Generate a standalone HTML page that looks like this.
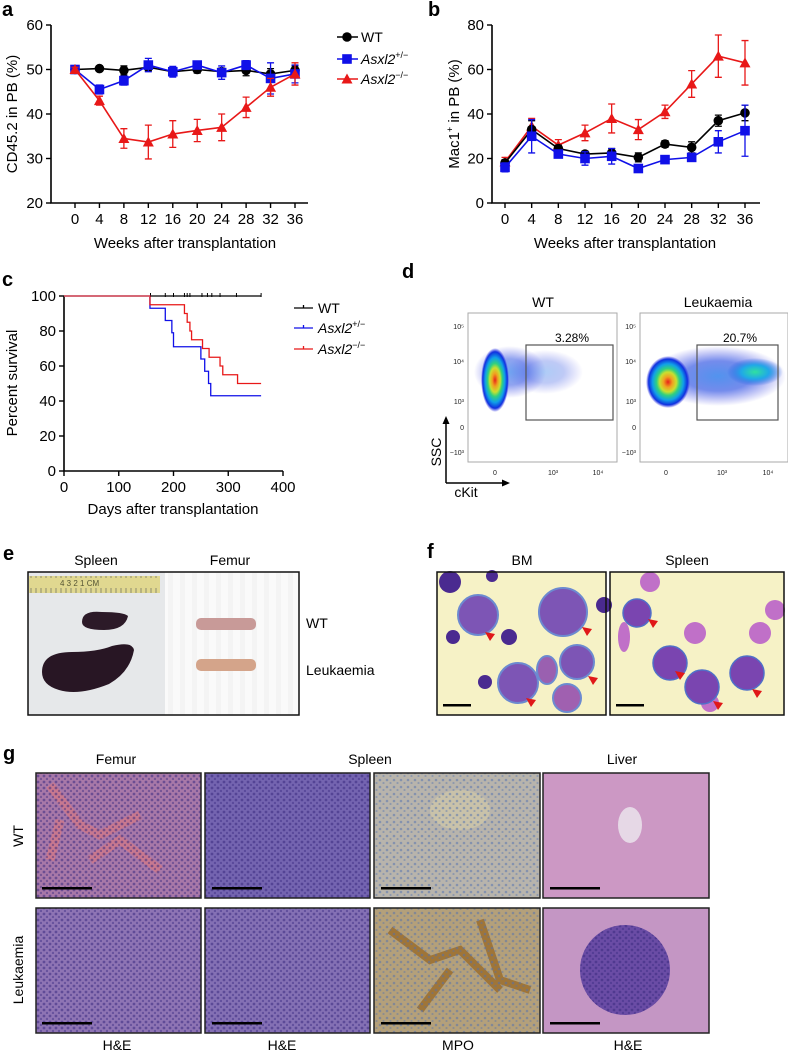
<!DOCTYPE html>
<html><head><meta charset="utf-8"><style>
html,body{margin:0;padding:0;background:#fff;}
svg{display:block;font-family:"Liberation Sans",Arial,sans-serif;}
</style></head><body>
<svg id="fig" width="788" height="1053" viewBox="0 0 788 1053" xmlns="http://www.w3.org/2000/svg">
<defs>
<radialGradient id="dens" cx="50%" cy="50%" r="50%">
<stop offset="0" stop-color="#e8201a"/><stop offset="0.2" stop-color="#f0a020"/><stop offset="0.38" stop-color="#c8e030"/><stop offset="0.52" stop-color="#30d080"/><stop offset="0.7" stop-color="#10a0e8"/><stop offset="0.88" stop-color="#1030e0"/><stop offset="1" stop-color="#2020e0" stop-opacity="0"/>
</radialGradient>
<radialGradient id="blue" cx="50%" cy="50%" r="50%">
<stop offset="0" stop-color="#1870e8"/><stop offset="0.5" stop-color="#1840e0" stop-opacity="0.8"/><stop offset="1" stop-color="#3030e0" stop-opacity="0"/>
</radialGradient>
<radialGradient id="cyan" cx="50%" cy="50%" r="50%">
<stop offset="0" stop-color="#30e0a0"/><stop offset="0.5" stop-color="#20a8e8"/><stop offset="1" stop-color="#2050e0" stop-opacity="0"/>
</radialGradient>
<pattern id="nuc" width="6" height="6" patternUnits="userSpaceOnUse"><circle cx="2" cy="2" r="1.4" fill="#3a2a80" opacity="0.55"/><circle cx="5" cy="5" r="1.2" fill="#3a2a80" opacity="0.45"/></pattern>
<pattern id="nucB" width="7" height="7" patternUnits="userSpaceOnUse"><circle cx="2" cy="3" r="1.3" fill="#5070b0" opacity="0.5"/><circle cx="5.5" cy="6" r="1.1" fill="#5070b0" opacity="0.4"/></pattern>
<pattern id="stripe" width="12" height="10" patternUnits="userSpaceOnUse"><rect width="5" height="10" fill="#f4f4f4"/></pattern>
<pattern id="ruler" width="5" height="17" patternUnits="userSpaceOnUse"><line x1="1" y1="10" x2="1" y2="17" stroke="#776" stroke-width="0.8"/></pattern>
</defs>
<g id="charts"></g>

<!-- Panel d -->
<g font-size="7">
<text x="402" y="278" font-size="20" font-weight="bold">d</text>
<text x="543" y="307" font-size="14" text-anchor="middle">WT</text>
<text x="718" y="307" font-size="14" text-anchor="middle">Leukaemia</text>
<rect x="468" y="313" width="149" height="149" fill="#fff" stroke="#aaa"/>
<ellipse cx="510" cy="372" rx="36" ry="26" fill="url(#blue)" opacity="0.6"/>
<ellipse cx="545" cy="372" rx="38" ry="22" fill="url(#blue)" opacity="0.35"/>
<ellipse cx="495" cy="380" rx="14" ry="32" fill="url(#dens)"/>
<rect x="526" y="345" width="87" height="75" fill="none" stroke="#555" stroke-width="1.2"/>
<text x="572" y="342" font-size="12" text-anchor="middle">3.28%</text>
<rect x="640" y="313" width="148" height="149" fill="#fff" stroke="#aaa"/>
<ellipse cx="718" cy="376" rx="68" ry="30" fill="url(#blue)" opacity="0.75"/>
<ellipse cx="755" cy="372" rx="28" ry="14" fill="url(#cyan)"/>
<ellipse cx="668" cy="382" rx="22" ry="26" fill="url(#dens)"/>
<rect x="697" y="345" width="81" height="75" fill="none" stroke="#555" stroke-width="1.2"/>
<text x="740" y="342" font-size="12" text-anchor="middle">20.7%</text>
<g text-anchor="end" fill="#222">
<text x="464" y="329">10⁵</text><text x="464" y="364">10⁴</text><text x="464" y="404">10³</text><text x="464" y="430">0</text><text x="464" y="455">−10³</text>
<text x="636" y="329">10⁵</text><text x="636" y="364">10⁴</text><text x="636" y="404">10³</text><text x="636" y="430">0</text><text x="636" y="455">−10³</text>
</g>
<g text-anchor="middle" fill="#222">
<text x="495" y="475">0</text><text x="553" y="475">10³</text><text x="598" y="475">10⁴</text>
<text x="666" y="475">0</text><text x="722" y="475">10³</text><text x="768" y="475">10⁴</text>
</g>
<path d="M446 483 V420 M446 483 H506" stroke="#000" stroke-width="1.5" fill="none"/>
<path d="M446 416 l-3.5 8 h7z M510 483 l-8 -3.5 v7z" fill="#000"/>
<text x="441" y="452" font-size="14" transform="rotate(-90 441 452)" text-anchor="middle">SSC</text>
<text x="466" y="497" font-size="14" text-anchor="middle">cKit</text>
</g>

<!-- Panel e -->
<g>
<text x="3" y="560" font-size="20" font-weight="bold">e</text>
<text x="96" y="565" font-size="14" text-anchor="middle">Spleen</text>
<text x="230" y="565" font-size="14" text-anchor="middle">Femur</text>
<rect x="28" y="572" width="137" height="143" fill="#e6e8ea"/>
<rect x="165" y="572" width="134" height="143" fill="#fafafa"/>
<rect x="165" y="572" width="134" height="143" fill="url(#stripe)"/>
<rect x="29" y="576" width="131" height="17" fill="#e0d890"/>
<rect x="29" y="576" width="131" height="17" fill="url(#ruler)"/>
<text x="60" y="586" font-size="8" fill="#553">4   3   2   1 CM</text>
<path d="M82 622 q0 -12 20 -10 q22 0 26 4 q-3 14 -24 14 q-22 0 -22 -8z" fill="#2c1a28"/>
<path d="M42 672 q0 -20 30 -20 q25 0 40 -6 q20 -5 22 4 q-4 22 -25 34 q-30 12 -50 6 q-17 -5 -17 -18z" fill="#281624"/>
<rect x="196" y="618" width="60" height="12" rx="5" fill="#c89a98"/>
<rect x="196" y="659" width="60" height="12" rx="5" fill="#d4a48a"/>
<rect x="28" y="572" width="271" height="143" fill="none" stroke="#111" stroke-width="1.5"/>
<text x="306" y="628" font-size="14">WT</text>
<text x="306" y="675" font-size="14">Leukaemia</text>
</g>

<!-- Panel f -->
<g>
<text x="427" y="558" font-size="20" font-weight="bold">f</text>
<text x="522" y="565" font-size="14" text-anchor="middle">BM</text>
<text x="687" y="565" font-size="14" text-anchor="middle">Spleen</text>
<rect x="437" y="572" width="169" height="143" fill="#f6f2c6"/>
<rect x="610" y="572" width="174" height="143" fill="#f6f2c6"/>
<g fill="#7d55b5" stroke="#6c8ad0" stroke-width="2">
<circle cx="478" cy="615" r="20"/><circle cx="563" cy="612" r="24"/><circle cx="518" cy="683" r="20"/><circle cx="577" cy="662" r="17"/>
<ellipse cx="547" cy="670" rx="10" ry="14" fill="#9a60b0"/><circle cx="567" cy="698" r="14" fill="#a060b0"/>
</g>
<g fill="#4a2a90"><circle cx="453" cy="637" r="7"/><circle cx="509" cy="637" r="8"/><circle cx="492" cy="576" r="6"/><circle cx="450" cy="582" r="11"/><circle cx="485" cy="682" r="7"/><circle cx="604" cy="605" r="8"/></g>
<g fill="#c070c8"><circle cx="650" cy="582" r="10"/><circle cx="695" cy="633" r="11"/><circle cx="760" cy="633" r="11"/><circle cx="775" cy="610" r="10"/><circle cx="710" cy="703" r="9"/><ellipse cx="624" cy="637" rx="6" ry="15"/></g>
<g fill="#7a45b0" stroke="#5070c8" stroke-width="1.5"><circle cx="637" cy="613" r="14"/><circle cx="670" cy="663" r="17"/><circle cx="702" cy="687" r="17"/><circle cx="747" cy="673" r="17"/></g>
<g fill="#e01818">
<path d="M490 641 l-5 -9 l10 2z"/><path d="M587 636 l-5 -9 l10 2z"/><path d="M593 685 l-5 -9 l10 2z"/><path d="M531 707 l-5 -9 l10 2z"/>
<path d="M653 628 l-5 -9 l10 2z"/><path d="M680 680 l-5 -9 l10 2z"/><path d="M718 710 l-5 -9 l10 2z"/><path d="M757 698 l-5 -9 l10 2z"/>
</g>
<rect x="443" y="704" width="28" height="2.5" fill="#000"/>
<rect x="616" y="704" width="28" height="2.5" fill="#000"/>
<rect x="437" y="572" width="169" height="143" fill="none" stroke="#111" stroke-width="1.5"/>
<rect x="610" y="572" width="174" height="143" fill="none" stroke="#111" stroke-width="1.5"/>
</g>

<!-- Panel g -->
<g>
<text x="3" y="760" font-size="20" font-weight="bold">g</text>
<g font-size="14" text-anchor="middle">
<text x="116" y="764">Femur</text>
<text x="370" y="764">Spleen</text>
<text x="622" y="764">Liver</text>
<text x="117" y="1050">H&amp;E</text>
<text x="282" y="1050">H&amp;E</text>
<text x="458" y="1050">MPO</text>
<text x="628" y="1050">H&amp;E</text>
<text x="23" y="836" transform="rotate(-90 23 836)">WT</text>
<text x="23" y="970" transform="rotate(-90 23 970)">Leukaemia</text>
</g>
<rect x="36" y="773" width="165" height="125" fill="#a878a8"/>
<path d="M50 785 l30 40 l20 10 l40 -20 M90 860 l30 -20 l40 30 M60 820 l-10 40" stroke="#d07888" stroke-width="9" fill="none" opacity="0.8"/>
<rect x="36" y="773" width="165" height="125" fill="url(#nuc)"/>
<rect x="205" y="773" width="165" height="125" fill="#7464b0"/><rect x="205" y="773" width="165" height="125" fill="url(#nuc)"/>
<rect x="374" y="773" width="166" height="125" fill="#b8b4ac"/><ellipse cx="460" cy="810" rx="30" ry="20" fill="#d0c8a8" opacity="0.7"/><rect x="374" y="773" width="166" height="125" fill="url(#nucB)"/>
<rect x="543" y="773" width="166" height="125" fill="#cc98c4"/><ellipse cx="630" cy="825" rx="12" ry="18" fill="#e6d8e6"/>
<rect x="36" y="908" width="165" height="125" fill="#8e74b4"/><rect x="36" y="908" width="165" height="125" fill="url(#nuc)"/>
<rect x="205" y="908" width="165" height="125" fill="#8470b4"/><rect x="205" y="908" width="165" height="125" fill="url(#nuc)"/>
<rect x="374" y="908" width="166" height="125" fill="#b4a07a"/>
<path d="M390 930 l40 30 l30 -10 l40 40 M420 1010 l30 -40 M480 920 l20 60 l30 10" stroke="#9a6a28" stroke-width="8" fill="none" opacity="0.8"/>
<rect x="374" y="908" width="166" height="125" fill="url(#nucB)"/>
<rect x="543" y="908" width="166" height="125" fill="#c496c4"/><ellipse cx="625" cy="970" rx="45" ry="45" fill="#5a40a0" opacity="0.85"/><ellipse cx="625" cy="970" rx="45" ry="45" fill="url(#nuc)"/>
<g fill="#000">
<rect x="42" y="887" width="50" height="2.5"/><rect x="212" y="887" width="50" height="2.5"/><rect x="381" y="887" width="50" height="2.5"/><rect x="550" y="887" width="50" height="2.5"/>
<rect x="42" y="1022" width="50" height="2.5"/><rect x="212" y="1022" width="50" height="2.5"/><rect x="381" y="1022" width="50" height="2.5"/><rect x="550" y="1022" width="50" height="2.5"/>
</g>
<g fill="none" stroke="#222" stroke-width="1.5">
<rect x="36" y="773" width="165" height="125"/><rect x="205" y="773" width="165" height="125"/><rect x="374" y="773" width="166" height="125"/><rect x="543" y="773" width="166" height="125"/>
<rect x="36" y="908" width="165" height="125"/><rect x="205" y="908" width="165" height="125"/><rect x="374" y="908" width="166" height="125"/><rect x="543" y="908" width="166" height="125"/>
</g>
</g>
</svg>
<script>
const weeks=[0,4,8,12,16,20,24,28,32,36];
const aTicksY=[20,30,40,50,60];
const aWT=[50,50.2,49.8,50.5,49.5,50,49.5,49.8,49,49.8];
const aWTerr=[0.5,0.6,1,0.8,0.8,0.8,0.8,1.2,1.2,1];
const aHet=[50,45.5,47.5,51,49.5,51,49.3,51,48,49];
const aHetErr=[0.5,1,1,1.5,1.2,0.8,1.5,1,3.5,2];
const aKO=[50,43,34.5,33.7,35.5,36.3,37,41.5,46,49];
const aKOerr=[0.5,1,2.2,3.8,3,2.5,3,2.3,2,2.5];
const bTicksY=[0,20,40,60,80];
const bWT=[18,33,24.5,22,22.5,20.5,26.5,25,37,40.5];
const bWTerr=[1.5,4,1.5,1,2,2,1.5,2.5,2.5,3.5];
const bHet=[16,30,22,20,21,15.5,19.5,20.5,27.5,32.5];
const bHetErr=[2,7.5,1.5,3,3.5,1,1,1,5,11.5];
const bKO=[18.5,34.5,26,31.5,38,33,41,53.5,66,63];
const bKOerr=[2,3.5,2.5,3.5,6.5,4.5,3,6,9.5,10];
const cTicksX=[0,100,200,300,400];
const cTicksY=[0,20,40,60,80,100];
const wtTimes=[0,360];
const wtSurv=[100,100];
const wtCensor=[158,185,200,220,225,230,252,262,270,285,315,360];
const hetTimes=[0,157,185,197,200,250,257,264,268,360];
const hetSurv=[100,93,86,79,71,64,57,50,43,43];
const koTimes=[0,157,220,225,230,233,253,265,285,290,317,360];
const koSurv=[100,95,90,85,80,75,70,65,60,55,50,50];

const NS='http://www.w3.org/2000/svg';
const root=document.getElementById('charts');
function mk(tag,attrs,parent){const e=document.createElementNS(NS,tag);for(const k in attrs)e.setAttribute(k,attrs[k]);(parent||root).appendChild(e);return e;}
function txt(s,attrs,parent){const e=mk('text',attrs,parent);e.textContent=s;return e;}

function axes(g,x0,x1,y0,y1,xt,xf,yt,yf){
  const ax=mk('path',{d:`M${x0} ${y1} V${y0} H${x1}`,stroke:'#000','stroke-width':1.6,fill:'none'},g);
  
  
  yt.forEach(v=>{const y=yf(v);mk('line',{x1:x0-5,x2:x0,y1:y,y2:y,stroke:'#000','stroke-width':1.4},g);
    const t=txt(String(v),{x:x0-8,y:y+5,'font-size':15,'text-anchor':'end'},g);
    
    });
  xt.forEach(v=>{const x=xf(v);mk('line',{x1:x,x2:x,y1:y0,y2:y0+5,stroke:'#000','stroke-width':1.4},g);
    const t=txt(String(v),{x:x,y:y0+21,'font-size':15,'text-anchor':'middle'},g);
    
    });
}
function marker(g,type,x,y,c){
  if(type==='c')return mk('circle',{cx:x,cy:y,r:4.8,fill:c},g);
  if(type==='s')return mk('rect',{x:x-4.8,y:y-4.8,width:9.6,height:9.6,fill:c},g);
  return mk('path',{d:`M${x} ${y-5.5} L${x+5.5} ${y+4.5} L${x-5.5} ${y+4.5}Z`,fill:c},g);
}
function series(g,name,xs,vals,errs,xf,yf,c,type){
  const sg=mk('g',{},g);
  
  
  vals.forEach((v,i)=>{const x=xf(xs[i]);const yt=yf(v+errs[i]),yb=yf(v-errs[i]);
    mk('path',{d:`M${x} ${yt} V${yb} M${x-3.5} ${yt} H${x+3.5} M${x-3.5} ${yb} H${x+3.5}`,stroke:c,'stroke-width':1.3,fill:'none'},sg);});
  mk('polyline',{points:vals.map((v,i)=>xf(xs[i])+','+yf(v)).join(' '),stroke:c,'stroke-width':1.6,fill:'none'},sg);
  vals.forEach((v,i)=>{const m=marker(sg,type,xf(xs[i]),yf(v),c);
    
    });
}
const BLK='#000',BLU='#1010e8',RED='#e81818';

/* Panel a */
const ga=mk('g',{});


const xa=w=>75+w/36*220, ya=v=>203-(v-20)/40*178;
txt('a',{x:2,y:16,'font-size':20,'font-weight':'bold'},ga);
axes(ga,51,308,203,25,weeks,xa,aTicksY,ya);
series(ga,'wt-series',weeks,aWT,aWTerr,xa,ya,BLK,'c');
series(ga,'het-series',weeks,aHet,aHetErr,xa,ya,BLU,'s');
series(ga,'ko-series',weeks,aKO,aKOerr,xa,ya,RED,'t');
const at=txt('Weeks after transplantation',{x:185,y:248,'font-size':15,'text-anchor':'middle'},ga);


const ayt=txt('CD45.2 in PB (%)',{x:17,y:114,'font-size':15,'text-anchor':'middle',transform:'rotate(-90 17 114)'},ga);


[['WT',BLK,'c',37],['Asxl2',BLU,'s',59,'+/−'],['Asxl2',RED,'t',79,'−/−']].forEach(L=>{
  const lg=mk('g',{},ga);
  
  
  mk('line',{x1:337,x2:358,y1:L[3],y2:L[3],stroke:L[1],'stroke-width':1.6},lg);
  marker(lg,L[2],347,L[3],L[1]);
  const t=txt('',{x:361,y:L[3]+5,'font-size':14},lg);
  if(L[4]){const a=mk('tspan',{'font-style':'italic'},t);a.textContent=L[0];const s=mk('tspan',{'font-size':9,dy:-6},t);s.textContent=L[4];}
  else t.textContent=L[0];
});

/* Panel b */
const gb=mk('g',{});


const xb=w=>505+w/36*240, yb=v=>203-v/80*178;
txt('b',{x:428,y:16,'font-size':20,'font-weight':'bold'},gb);
axes(gb,492,760,203,25,weeks,xb,bTicksY,yb);
series(gb,'ko-series-b',weeks,bKO,bKOerr,xb,yb,RED,'t');
series(gb,'wt-series-b',weeks,bWT,bWTerr,xb,yb,BLK,'c');
series(gb,'het-series-b',weeks,bHet,bHetErr,xb,yb,BLU,'s');
const bt=txt('Weeks after transplantation',{x:625,y:248,'font-size':15,'text-anchor':'middle'},gb);


const byt=txt('',{x:459,y:114,'font-size':15,'text-anchor':'middle',transform:'rotate(-90 459 114)'},gb);


byt.innerHTML='Mac1<tspan font-size="9" dy="-6">+</tspan><tspan dy="6"> in PB (%)</tspan>';

/* Panel c */
const gc=mk('g',{});


const xc=d=>64+d/400*219, yc=p=>471-p/100*175;
txt('c',{x:2,y:286,'font-size':20,'font-weight':'bold'},gc);
axes(gc,64,283,471,296,cTicksX,xc,cTicksY,yc);
function km(name,ts,ss,c,w){
  let d=`M${xc(ts[0])} ${yc(ss[0])}`;
  for(let i=1;i<ts.length;i++){d+=` H${xc(ts[i])} V${yc(ss[i])}`;}
  const p=mk('path',{d:d,stroke:c,'stroke-width':w,fill:'none'},gc);
  
  
}
km('wt-survival-curve',wtTimes,wtSurv,BLK,1.2);
wtCensor.forEach(t=>{const l=mk('line',{x1:xc(t),x2:xc(t),y1:yc(100)-3,y2:yc(100)+1,stroke:BLK,'stroke-width':1},gc);
  
  });
km('het-survival-curve',hetTimes,hetSurv,BLU,1.3);
km('ko-survival-curve',koTimes,koSurv,RED,1.3);
mk('line',{x1:xc(0),x2:xc(157),y1:yc(100),y2:yc(100),stroke:'#f06060','stroke-width':1.3},gc);
const ct=txt('Days after transplantation',{x:173,y:514,'font-size':15,'text-anchor':'middle'},gc);


const cyt=txt('Percent survival',{x:17,y:383,'font-size':15,'text-anchor':'middle',transform:'rotate(-90 17 383)'},gc);


[['WT',BLK,308],['Asxl2',BLU,328,'+/−'],['Asxl2',RED,349,'−/−']].forEach(L=>{
  const lg=mk('g',{},gc);
  
  
  mk('path',{d:`M294 ${L[2]} H313 M303.5 ${L[2]-3} V${L[2]}`,stroke:L[1],'stroke-width':1.3,fill:'none'},lg);
  const t=txt('',{x:318,y:L[2]+5,'font-size':14},lg);
  if(L[3]){const a=mk('tspan',{'font-style':'italic'},t);a.textContent=L[0];const s=mk('tspan',{'font-size':9,dy:-6},t);s.textContent=L[3];}
  else t.textContent=L[0];
});
</script>
</body></html>
